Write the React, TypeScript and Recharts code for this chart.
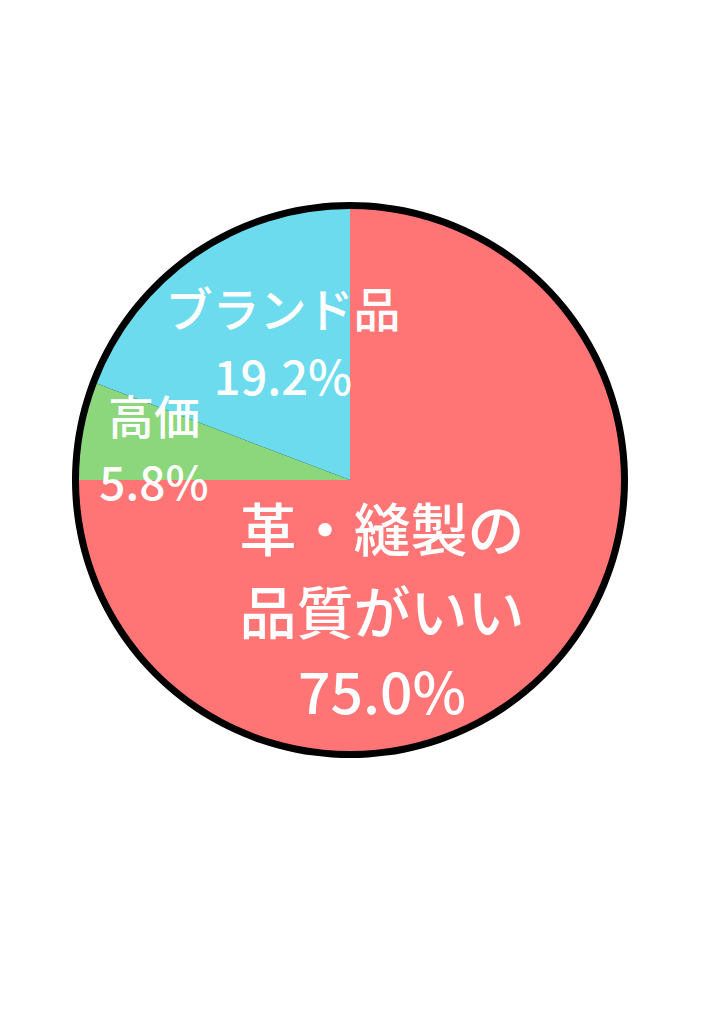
import React from "react";
import { PieChart, Pie, Cell } from "recharts";

const categories = ["革・縫製の品質がいい", "高価", "ブランド品"];
const labelLines = [["革・縫製の", "品質がいい"], ["高価"], ["ブランド品"]];
const shares = [75.0, 5.8, 19.2];

const COLORS = ["#ff7575", "#8cd67b", "#6ddbee"];
const FONT = "'Noto Sans CJK JP', 'Noto Sans', sans-serif";

// label placement relative to the pie centre, per slice
const LABEL_POS = [
  { dx: 32, dy: [71, 154, 234], size: 57 },
  { dx: -196, dy: [-46, 20], size: 46 },
  { dx: -67, dy: [-153, -85], size: 47 },
];

const data = categories.map((name, i) => ({ name, value: shares[i] }));

const renderLabel = (props: any) => {
  const { cx, cy, index } = props;
  const pos = LABEL_POS[index];
  const lines = [...labelLines[index], shares[index].toFixed(1) + "%"];
  return (
    <g>
      {lines.map((t, i) => (
        <text
          key={i}
          x={cx + pos.dx}
          y={cy + pos.dy[i]}
          textAnchor="middle"
          fill="#ffffff"
          fontFamily={FONT}
          fontWeight={500}
          fontSize={pos.size}
        >
          {t}
        </text>
      ))}
    </g>
  );
};

export default function App() {
  return (
    <PieChart width={716} height={1016} margin={{ top: 0, right: 0, bottom: 0, left: 0 }}>
      <Pie
        data={[{ name: "border", value: 1 }]}
        dataKey="value"
        cx={342}
        cy={472}
        outerRadius={278}
        fill="#000000"
        stroke="none"
        isAnimationActive={false}
      />
      <Pie
        data={data}
        dataKey="value"
        cx={342}
        cy={472}
        outerRadius={271}
        startAngle={90}
        endAngle={-270}
        stroke="none"
        label={renderLabel}
        labelLine={false}
        isAnimationActive={false}
      >
        {data.map((entry, index) => (
          <Cell key={`cell-${index}`} fill={COLORS[index]} />
        ))}
      </Pie>
    </PieChart>
  );
}
